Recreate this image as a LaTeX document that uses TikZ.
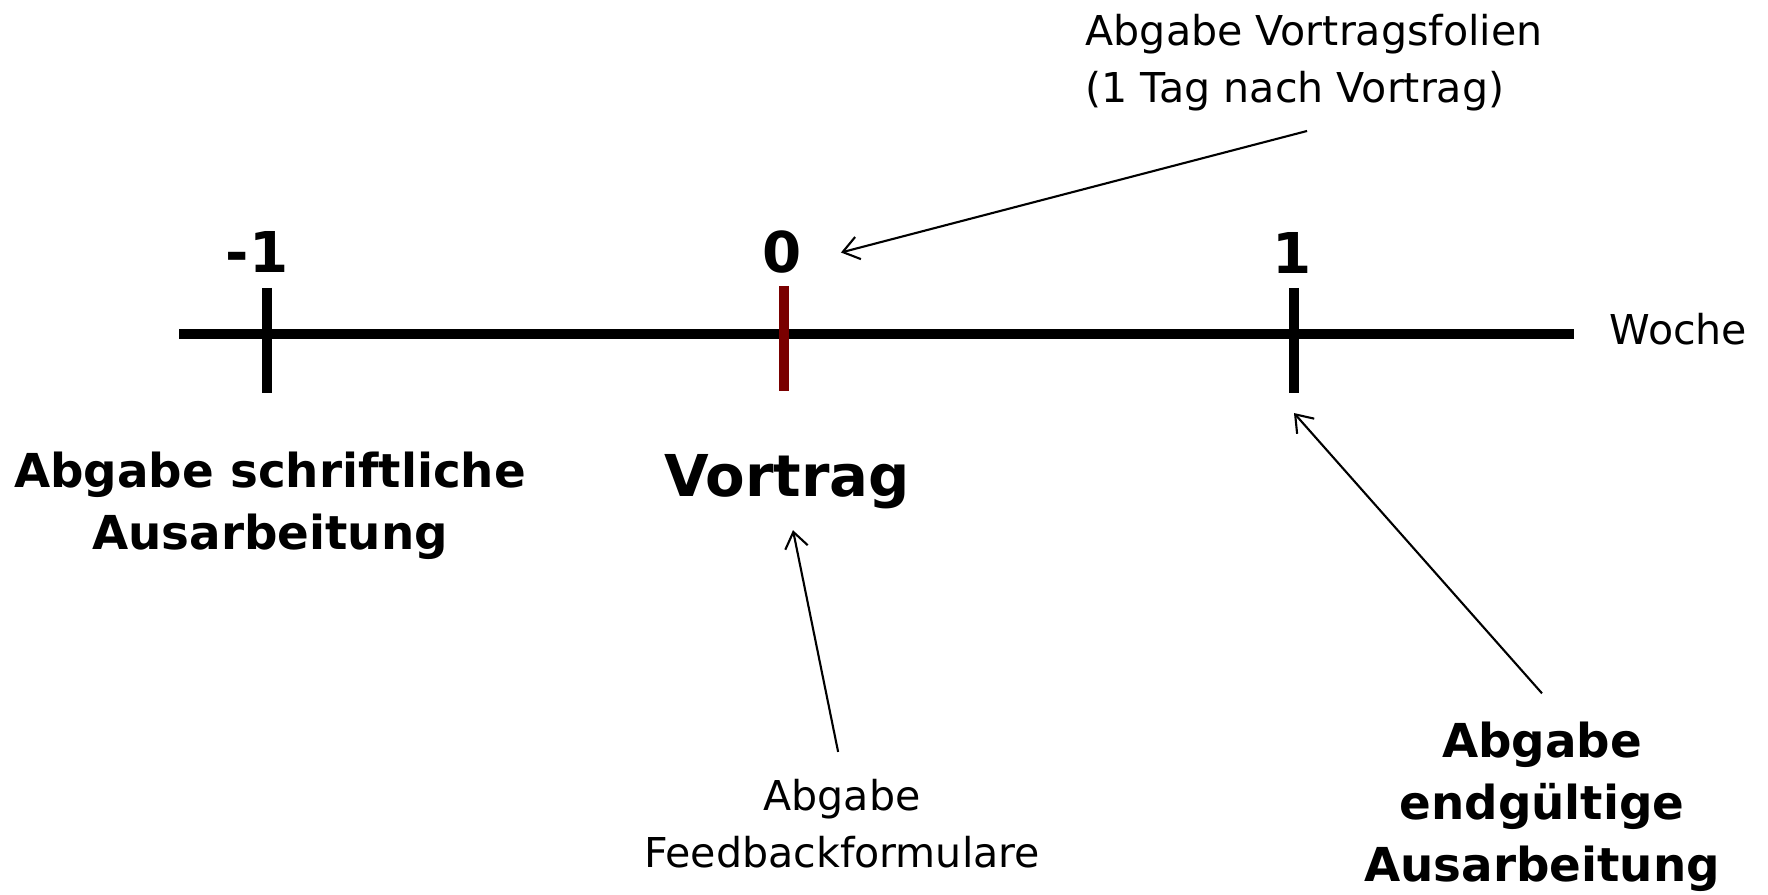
\documentclass[tikz,border=0pt]{standalone}
\usepackage{fontspec}
\setmainfont{DejaVu Sans}
\usepackage{tikz}
\usetikzlibrary{arrows.meta}
\definecolor{tickred}{HTML}{7A0000}

\begin{document}
\begin{tikzpicture}[x=0.01cm,y=-0.01cm,>={Straight Barb[length=4.5pt,width=6.5pt]},line join=bevel,
  nr/.style={font=\fontsize{16}{19}\selectfont\bfseries,inner sep=0pt,anchor=base},
  fett/.style={font=\fontsize{13.3}{17.6}\selectfont\bfseries,inner sep=0pt,align=center,anchor=north},
  duenn/.style={font=\fontsize{11.7}{16.2}\selectfont,inner sep=0pt},
  achse/.style={line width=2.85pt},
  pfeil/.style={->,line width=0.6pt}]

\useasboundingbox (0,0) rectangle (1768,895);

\draw[achse] (179,334) -- (1574,334);
\draw[achse] (267,288) -- (267,393);
\draw[achse,tickred] (784,286) -- (784,391);
\draw[achse] (1294,288) -- (1294,393) coordinate (tk1);

\node[nr] (lblm1) at (257,273) {-1};
\node[nr] (lbl0) at (782,273) {0};
\node[nr] (lbl1) at (1292,274) {1};
\node[duenn,anchor=base west] (woche) at (1609,345) {Woche};

\node[fett] (schrift) at (270,451.5) {Abgabe schriftliche\\Ausarbeitung};
\node[nr,font=\fontsize{16.4}{20}\selectfont\bfseries] (vortrag) at (787,497) {Vortrag};
\node[fett] (endg) at (1542,721.5) {Abgabe\\endgültige\\Ausarbeitung};

\node[duenn,align=left,anchor=north west] (folien) at (1085,13.8) {Abgabe Vortragsfolien\\(1 Tag nach Vortrag)};
\node[duenn,align=center,anchor=north] (feedback) at (842,779) {Abgabe\\Feedbackformulare};

\draw[pfeil] ([xshift=-2pt,yshift=-5.4pt]folien.south) -- ([xshift=11pt]lbl0.east);
\draw[pfeil] ([xshift=-1.1pt,yshift=7.7pt]feedback.north) -- ([xshift=1.7pt,yshift=-5.7pt]vortrag.south);
\draw[pfeil] ([yshift=8pt]endg.north) -- ([yshift=-5.7pt]tk1);

\end{tikzpicture}
\end{document}
